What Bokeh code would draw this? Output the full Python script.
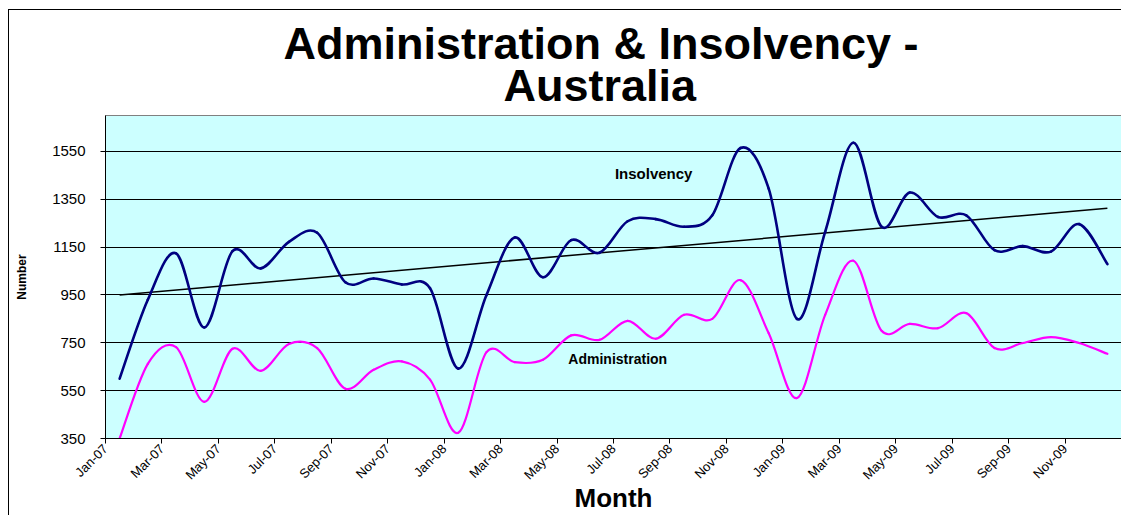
import numpy as np
from math import pi
from bokeh.plotting import figure
from bokeh.models import Title, Label, FixedTicker, Range1d
from bokeh.embed import file_html
from bokeh.resources import INLINE

# ---------------- data ----------------
month_labels = ["Jan-07", "Mar-07", "May-07", "Jul-07", "Sep-07", "Nov-07",
                "Jan-08", "Mar-08", "May-08", "Jul-08", "Sep-08", "Nov-08",
                "Jan-09", "Mar-09", "May-09", "Jul-09", "Sep-09", "Nov-09"]

# monthly values Jan-07 .. Dec-09
insolvency = [600, 930, 1124, 814, 1133, 1061, 1172, 1210, 1003, 1019, 994, 978,
              642, 950, 1190, 1024, 1179, 1126, 1258, 1267, 1235, 1283, 1564, 1394,
              850, 1214, 1586, 1235, 1378, 1276, 1283, 1137, 1154, 1131, 1246, 1079]
administration = [350, 662, 732, 503, 725, 633, 745, 728, 558, 637, 672, 596,
                  374, 711, 669, 679, 781, 762, 842, 767, 867, 850, 1012, 790,
                  519, 867, 1093, 800, 829, 811, 874, 728, 749, 774, 749, 704]
y_ticks = [350, 550, 750, 950, 1150, 1350, 1550]

FONT = "Liberation Sans"

month_index = np.arange(len(insolvency)) + 0.5   # category centres


def smooth_segments(xs, ys):
    """Excel-style smoothed line: cubic Bezier segments through the points."""
    P = np.column_stack([xs, ys]).astype(float)
    ext = np.vstack([P[0], P, P[-1]])
    p0, p1, p2, p3 = ext[:-3], ext[1:-2], ext[2:-1], ext[3:]
    c0 = p1 + (p2 - p0) / 6.0
    c1 = p2 - (p3 - p1) / 6.0
    return dict(x0=p1[:, 0], y0=p1[:, 1], x1=p2[:, 0], y1=p2[:, 1],
                cx0=c0[:, 0], cy0=c0[:, 1], cx1=c1[:, 0], cy1=c1[:, 1])


p = figure(width=1113, height=506, output_backend="svg", toolbar_location=None,
           x_range=Range1d(0, 36), y_range=Range1d(350, 1700),
           min_border_left=96, min_border_right=1, min_border_top=105,
           min_border_bottom=78)
p.styles = {"margin-left": "8px", "margin-top": "9px",
            "border-left": "1px solid #000000", "border-top": "1px solid #000000"}

p.background_fill_color = "#CCFFFF"
p.border_fill_color = "#FFFFFF"
p.outline_line_color = "#808080"
p.outline_line_width = 1

# titles (first added is closest to the frame)
t2 = Title(text="Australia", align="left", offset=398, standoff=9,
           text_font=FONT, text_font_style="bold", text_font_size="45px",
           text_color="#000000")
p.add_layout(t2, "above")
t1 = Title(text="Administration & Insolvency -", align="left", offset=178,
           standoff=-31, text_font=FONT, text_font_style="bold",
           text_font_size="45px", text_color="#000000")
p.add_layout(t1, "above")

# trend line (linear regression of insolvency)
slope, intercept = np.polyfit(month_index, insolvency, 1)
trend_x = np.array([month_index[0], month_index[-1]])
p.line(trend_x, slope * trend_x + intercept, line_color="#000000", line_width=1.5)

# smoothed series
p.bezier(**smooth_segments(month_index, administration), line_color="#FF00FF",
         line_width=2.2, line_cap="round")
p.bezier(**smooth_segments(month_index, insolvency), line_color="#000080",
         line_width=2.6, line_cap="round")

# series labels
p.add_layout(Label(x=18.05, y=1458, text="Insolvency", text_baseline="middle",
                   text_font=FONT, text_font_style="bold", text_font_size="15px",
                   text_color="#000000"))
p.add_layout(Label(x=16.4, y=683, text="Administration", text_baseline="middle",
                   text_font=FONT, text_font_style="bold", text_font_size="14px",
                   text_color="#000000"))

# axes
p.xaxis.ticker = FixedTicker(ticks=list(range(0, 37, 2)))
overrides = {2 * k: lab for k, lab in enumerate(month_labels)}
overrides[36] = ""
p.xaxis.major_label_overrides = overrides
p.xaxis.major_label_orientation = pi / 4
p.xaxis.axis_label = "Month"
p.xaxis.axis_label_text_font_size = "26px"
p.xaxis.axis_label_standoff = -8

p.yaxis.ticker = FixedTicker(ticks=y_ticks)
p.yaxis.axis_label = "Number"
p.yaxis.axis_label_text_font_size = "12px"
p.yaxis.axis_label_standoff = 20

for ax in (p.xaxis[0], p.yaxis[0]):
    ax.axis_line_color = "#000000"
    ax.axis_line_width = 1
    ax.major_tick_line_color = "#000000"
    ax.major_tick_out = 5
    ax.major_tick_in = 0
    ax.minor_tick_line_color = None
    ax.major_label_text_font = FONT
    ax.major_label_text_color = "#000000"
    ax.axis_label_text_font = FONT
    ax.axis_label_text_font_style = "bold"
    ax.axis_label_text_color = "#000000"
p.yaxis.major_label_text_font_size = "15px"
p.xaxis.major_label_text_font_size = "13px"
p.yaxis.major_label_standoff = 15
p.xaxis.major_label_standoff = 3

p.xgrid.visible = False
p.ygrid.grid_line_color = "#000000"
p.ygrid.grid_line_alpha = 1
p.ygrid.grid_line_width = 1

open("out.html", "w").write(file_html(p, INLINE))
